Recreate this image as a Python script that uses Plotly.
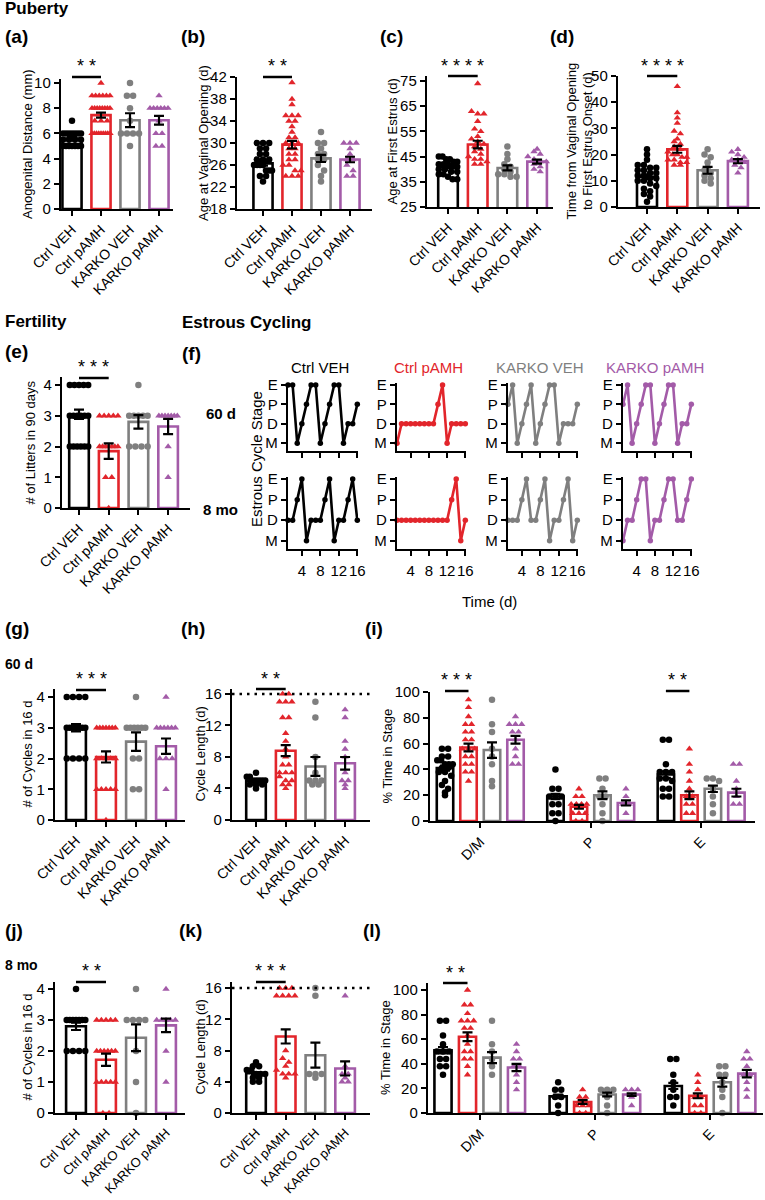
import numpy as np
import plotly.graph_objects as go

W, H = 765, 1200
FONT = "Liberation Sans, Arial, sans-serif"

groups = ["Ctrl VEH", "Ctrl pAMH", "KARKO VEH", "KARKO pAMH"]
colors = ["#000000", "#e2252b", "#7f7f7f", "#a35ba8"]
symbols = ["circle", "triangle-up", "circle", "triangle-up"]

# ---------------- data ----------------
# (a) Anogenital distance (mm)
a_means = [5.6, 7.45, 7.05, 7.05]
a_sems = [0.15, 0.2, 0.55, 0.35]
a_pts = [
    [7, 6, 6, 6, 6, 6, 6, 6, 5.5, 5.5, 5.5, 5.5, 5, 5, 5, 5, 5, 5, 5],
    [10, 9, 9, 9, 9, 9, 9, 8, 8, 8, 8, 8, 8, 8, 8, 7, 7, 7, 6, 6, 6, 6, 6, 6, 6, 6, 6],
    [10, 9, 9, 8, 7, 6, 6, 6, 6, 5],
    [9, 8, 8, 8, 8, 8, 8, 7, 6, 6, 5, 5],
]
# (b) Age at vaginal opening (d)
b_means = [26.3, 29.7, 27.2, 27.0]
b_sems = [0.4, 0.7, 0.65, 0.5]
b_pts = [
    [30, 30, 30, 29, 29, 28, 28, 27, 27, 27, 26, 26, 26, 26, 25, 25, 25, 24, 24, 23],
    [41, 38, 37, 35, 35, 35, 34, 34, 33, 32, 31, 31, 30, 30, 30, 29, 29, 28, 28, 27, 27, 26, 26, 25, 25, 24, 24, 24],
    [32, 30, 30, 29, 28, 28, 27, 27, 26, 25, 24, 23],
    [30, 30, 30, 29, 28, 27, 27, 26, 25, 24, 24],
]
# (c) Age at first estrus (d)
c_means = [41.0, 49.8, 40.5, 43.0]
c_sems = [0.6, 1.5, 1.0, 0.8]
c_pts = [
    [45, 45, 44, 44, 43, 43, 42, 42, 42, 41, 41, 40, 40, 39, 39, 38, 38, 37, 36, 36],
    [74, 63, 62, 62, 59, 56, 55, 53, 52, 51, 50, 49, 48, 47, 46, 45, 44, 44, 43, 42, 42],
    [49, 46, 44, 42, 41, 40, 39, 38, 38, 37, 37],
    [48, 47, 46, 45, 44, 43, 43, 42, 41, 40, 39],
]
# (d) Time from VO to first estrus onset (d)
d_means = [11.5, 22.0, 14.0, 17.5]
d_sems = [0.9, 1.3, 1.3, 0.8]
d_pts = [
    [22, 20, 18, 16, 16, 15, 15, 14, 14, 13, 13, 12, 12, 11, 11, 10, 10, 9, 8, 7, 6, 5, 4, 2],
    [46, 36, 34, 32, 29, 28, 26, 25, 24, 23, 22, 21, 20, 20, 19, 19, 18, 18, 17, 17, 16, 16],
    [22, 20, 19, 17, 15, 14, 13, 12, 11, 10, 9],
    [22, 21, 20, 19, 18, 18, 17, 16, 15, 13],
]
# (e) # of litters in 90 days
e_means = [3.05, 1.85, 2.8, 2.65]
e_sems = [0.15, 0.25, 0.22, 0.25]
e_pts = [
    [4, 4, 4, 4, 4, 3, 3, 3, 3, 3, 3, 2, 2, 2, 2, 2, 2],
    [3, 3, 3, 3, 3, 2, 2, 2, 2, 2, 2, 2, 1, 1, 0],
    [4, 3, 3, 3, 3, 3, 2, 2, 2, 2],
    [3, 3, 3, 3, 3, 3, 3, 2, 1],
]
# (f) estrous cycle stage sequences (16 days)
f_days = list(range(1, 17))
stage_names = ["M", "D", "P", "E"]
f_60d = ["EEMDPEEMDPEEMDDP", "MDDDDDDDDPEMDDDD", "PEMDPEMDPEEMDDDP", "PEMDPEEMDPEEMDDP"]
f_8mo = ["DDPEMDDDPEMDDPED", "DDDDDDDDDDDDPEMD", "DDDPEDDPEMDDPEMD", "MDDPEEMDDPEEDDPE"]
# (g) # cycles in 16 d, 60 d
g_means = [3.0, 2.05, 2.55, 2.4]
g_sems = [0.12, 0.18, 0.3, 0.25]
g_pts = [
    [4, 4, 4, 4, 3, 3, 3, 3, 3, 3, 3, 2, 2, 2, 2],
    [3, 3, 3, 3, 3, 3, 3, 2, 2, 2, 2, 2, 1, 1, 1, 1, 1, 0],
    [4, 3, 3, 3, 3, 3, 3, 2, 2, 1, 1],
    [4, 3, 3, 3, 3, 3, 3, 2, 2, 2, 1],
]
# (h) cycle length (d), 60 d
h_means = [5.0, 8.8, 6.8, 7.2]
h_sems = [0.15, 0.7, 1.2, 0.8]
h_pts = [
    [6, 5.5, 5.5, 5, 5, 5, 5, 5, 4.5, 4.5, 4.5, 4],
    [16, 16, 15, 15, 15, 13, 13, 11, 10, 9, 8, 7, 7, 6, 6, 6, 5.5, 5, 5, 4.5, 4.5, 4],
    [15, 13, 8, 6, 5, 5, 5, 4.5, 4.5],
    [14, 13, 10, 9, 8, 6, 5, 5, 4.5, 4],
]
stages = ["D/M", "P", "E"]
# (i) % time in stage, 60 d  (rows: stage, cols: group)
i_means = [[41, 57, 55, 63], [19, 11, 20, 14], [36, 20, 25, 22]]
i_sems = [[2.0, 3.0, 6.0, 3.0], [2.0, 1.5, 3.0, 2.0], [2.5, 3.0, 2.5, 3.0]]
i_pts = [
    [[56, 56, 50, 50, 47, 47, 44, 44, 44, 41, 41, 38, 38, 35, 31, 28, 25, 22, 20],
     [94, 88, 81, 75, 75, 69, 69, 63, 63, 56, 56, 56, 50, 50, 44, 44, 38, 38, 31],
     [94, 75, 69, 56, 50, 44, 31, 27],
     [81, 75, 75, 75, 69, 69, 63, 56, 50, 44, 44]],
    [[40, 25, 25, 19, 19, 19, 13, 13, 6, 6, 0],
     [25, 19, 19, 13, 13, 13, 13, 6, 6, 6, 0, 0],
     [33, 33, 25, 19, 19, 13, 6, 0],
     [25, 19, 13, 13, 6]],
    [[63, 63, 44, 38, 38, 38, 33, 33, 31, 25, 25, 19, 19],
     [56, 44, 38, 31, 25, 19, 19, 13, 13, 6, 6],
     [33, 33, 31, 25, 19, 13, 6],
     [44, 44, 31, 25, 19, 13, 13]],
]
# (j) # cycles in 16 d, 8 mo
j_means = [2.8, 1.72, 2.43, 2.83]
j_sems = [0.12, 0.2, 0.43, 0.22]
j_pts = [
    [4, 3, 3, 3, 3, 3, 3, 3, 2, 2, 2, 2],
    [3, 3, 3, 3, 3, 2, 2, 2, 2, 2, 2, 1, 1, 1, 1, 1, 0, 0],
    [4, 3, 3, 3, 3, 2, 1, 0],
    [4, 3, 3, 3, 3, 3, 2, 1],
]
# (k) cycle length (d), 8 mo
k_means = [5.1, 9.8, 7.4, 5.7]
k_sems = [0.15, 0.9, 1.6, 0.9]
k_pts = [
    [6.5, 6, 6, 5.5, 5.5, 5, 5, 5, 4.5, 4.5, 4, 4],
    [16, 16, 16, 15, 15, 15, 15, 8, 7, 6.5, 6, 5.5, 5, 5, 5, 4.5],
    [16, 15, 5, 5, 5, 4.5],
    [15, 6, 5, 5, 4.5, 4, 4],
]
# (l) % time in stage, 8 mo
l_means = [[51, 62, 45, 37], [13.5, 9, 15, 15], [22, 14, 25, 32]]
l_sems = [[2.5, 3.5, 4.5, 3.0], [1.5, 1.5, 1.5, 1.0], [2.5, 2.0, 3.5, 3.0]]
l_pts = [
    [[75, 75, 63, 56, 50, 50, 50, 44, 44, 38, 38, 31],
     [100, 88, 88, 81, 75, 75, 75, 69, 69, 63, 56, 50, 50, 44, 44, 38, 31],
     [75, 56, 50, 44, 38, 31],
     [56, 50, 44, 44, 38, 38, 31, 25, 19]],
    [[25, 19, 19, 13, 13, 6, 0],
     [19, 13, 13, 6, 6, 6, 0, 0],
     [19, 19, 19, 13, 6, 0],
     [19, 19, 19, 13, 6]],
    [[44, 44, 31, 25, 19, 13, 13, 6],
     [31, 25, 19, 13, 13, 6, 6, 0, 0],
     [38, 38, 31, 31, 25, 19, 13, 0],
     [50, 44, 44, 38, 31, 31, 25, 19, 13]],
]

# ---------------- helpers ----------------
def PX(x):
    return x / W


def PY(y):
    return 1 - y / H


fig = go.Figure()
lay = {}
annotations = []
shapes = []


def ax_names(n):
    s = "" if n == 1 else str(n)
    return "xaxis" + s, "yaxis" + s, "x" + s, "y" + s


def add_axes(n, xl, xr, yt, yb, xrange, yrange, xtv, xtt, ytv, ytt,
             xfont=14, yfont=15, xangle=-45, show_xlabels=True, ticklen=5):
    xa, ya, xr_, yr_ = ax_names(n)
    common = dict(showline=True, linecolor="black", linewidth=2.2, ticks="outside",
                  tickwidth=2, ticklen=ticklen, tickcolor="black", showgrid=False,
                  zeroline=False, fixedrange=True, automargin=False)
    lay[xa] = dict(common, domain=[PX(xl), PX(xr)], range=xrange, anchor=yr_,
                   tickmode="array", tickvals=xtv, ticktext=xtt, tickangle=xangle,
                   showticklabels=show_xlabels,
                   tickfont=dict(size=xfont, color="black", family=FONT))
    lay[ya] = dict(common, domain=[PY(yb), PY(yt)], range=yrange, anchor=xr_,
                   tickmode="array", tickvals=ytv, ticktext=ytt,
                   tickfont=dict(size=yfont, color="black", family=FONT))
    return xr_, yr_


def text(t, x, y, size=13, bold=False, color="black", xanchor="left", angle=0, yanchor="middle"):
    if bold:
        t = "<b>" + t + "</b>"
    annotations.append(dict(text=t, x=PX(x), y=PY(y), xref="paper", yref="paper",
                            showarrow=False, xanchor=xanchor, yanchor=yanchor,
                            textangle=angle, font=dict(size=size, color=color, family=FONT)))


def swarm(vals, center, v_per_px, u_per_px, msize=6.5, maxhalf=0.33):
    vals = np.asarray(vals, float)
    binw = v_per_px * msize * 0.9
    keys = np.round(vals / binw).astype(int)
    xs = np.zeros(len(vals))
    step = u_per_px * msize * 0.95
    for k in np.unique(keys):
        idx = np.where(keys == k)[0]
        n = len(idx)
        s = step
        if n > 1 and (n - 1) * s > 2 * maxhalf:
            s = 2 * maxhalf / (n - 1)
        for j, i in enumerate(idx):
            xs[i] = center + (j - (n - 1) / 2) * s
    return xs


def sig(xr_, x0, x1, y_line, y_star, stars):
    shapes.append(dict(type="line", xref=xr_, yref="paper", x0=x0, x1=x1,
                       y0=PY(y_line), y1=PY(y_line), line=dict(color="black", width=2.5)))
    annotations.append(dict(text=" ".join(stars), x=(x0 + x1) / 2, y=PY(y_star + 4), xref=xr_,
                            yref="paper", showarrow=False, xanchor="center", yanchor="middle",
                            font=dict(size=18, color="black", family=FONT)))


def draw_bars(xr_, yr_, pos, means, sems, pts, cols, syms, v_per_px, u_per_px, bw=0.66):
    fig.add_trace(go.Bar(x=pos, y=means, width=bw, xaxis=xr_, yaxis=yr_,
                         marker=dict(color="white", line=dict(color=cols, width=2.6)),
                         hoverinfo="skip"))
    for p, vals, c, s in zip(pos, pts, cols, syms):
        xs = swarm(vals, p, v_per_px, u_per_px, maxhalf=bw / 2 - 0.02)
        fig.add_trace(go.Scatter(x=xs, y=vals, mode="markers", xaxis=xr_, yaxis=yr_,
                                 marker=dict(symbol=s, size=6.5, color=c, line=dict(width=0)),
                                 cliponaxis=False, hoverinfo="skip"))
    fig.add_trace(go.Scatter(x=pos, y=means, mode="markers", xaxis=xr_, yaxis=yr_,
                             marker=dict(size=1, color="rgba(0,0,0,0)"),
                             error_y=dict(type="data", array=sems, color="black",
                                          thickness=2.2, width=5),
                             cliponaxis=False, hoverinfo="skip"))


def bar_panel(n, geom, yrange, ytv, means, sems, pts, title, title_x, sigspec,
              dotted=None, xfont=14):
    xl, xr, c0, sp, yt, yb = geom
    xrange = [(xl - c0) / sp, (xr - c0) / sp]
    pos = [0, 1, 2, 3]
    xr_, yr_ = add_axes(n, xl, xr, yt, yb, xrange, yrange, pos, groups,
                        ytv, [str(v) for v in ytv], xfont=xfont)
    v_per_px = (yrange[1] - yrange[0]) / (yb - yt)
    if dotted is not None:
        shapes.append(dict(type="line", xref=xr_, yref=yr_, x0=xrange[0], x1=xrange[1],
                           y0=dotted, y1=dotted, line=dict(color="black", width=2.5, dash="2.5px,5px")))
    draw_bars(xr_, yr_, pos, means, sems, pts, colors, symbols, v_per_px, 1 / sp)
    text(title, title_x, (yt + yb) / 2, size=13, xanchor="center", angle=-90)
    y_line, y_star, stars = sigspec
    sig(xr_, 0, 1, y_line, y_star, stars)


def grouped_panel(n, geom, yrange, ytv, means, sems, pts, title, title_x, sigs, G=4.7):
    xl, xr, c0, sp, yt, yb = geom
    xrange = [(xl - c0) / sp, (xr - c0) / sp]
    pos, m, s, p, cc, ss = [], [], [], [], [], []
    for g in range(3):
        for k in range(4):
            pos.append(g * G + k)
            m.append(means[g][k])
            s.append(sems[g][k])
            p.append(pts[g][k])
            cc.append(colors[k])
            ss.append(symbols[k])
    tv = [g * G + 1.5 for g in range(3)]
    xr_, yr_ = add_axes(n, xl, xr, yt, yb, xrange, yrange, tv, stages,
                        ytv, [str(v) for v in ytv])
    v_per_px = (yrange[1] - yrange[0]) / (yb - yt)
    draw_bars(xr_, yr_, pos, m, s, p, cc, ss, v_per_px, 1 / sp, bw=0.7)
    text(title, title_x, (yt + yb) / 2, size=13, xanchor="center", angle=-90)
    for (g, y_line, y_star, stars) in sigs:
        sig(xr_, g * G, g * G + 1, y_line, y_star, stars)


# ---------------- Puberty row ----------------
text("Puberty", 3, 9, size=17, bold=True)
for lab, x in [("(a)", 3), ("(b)", 179), ("(c)", 378), ("(d)", 548)]:
    text(lab, x, 36, size=19, bold=True)

bar_panel(1, (61, 173, 72, 29, 79, 209), [0, 10.32], [0, 2, 4, 6, 8, 10],
          a_means, a_sems, a_pts, "Anogenital Distance (mm)", 27, (77, 62, "**"))
bar_panel(2, (237, 372, 263, 29, 77, 209), [18, 42], [18, 22, 26, 30, 34, 38, 42],
          b_means, b_sems, b_pts, "Age at Vaginal Opening (d)", 204, (77, 62, "**"))
bar_panel(3, (427, 553, 448, 29.7, 76, 207), [25, 77], [25, 35, 45, 55, 65, 75],
          c_means, c_sems, c_pts, "Age at First Estrus (d)", 392, (76, 62, "****"))
bar_panel(4, (618, 760, 647, 30.3, 76, 207), [0, 50], [0, 10, 20, 30, 40, 50],
          d_means, d_sems, d_pts, "Time from Vaginal Opening<br>to First Estrus Onset (d)", 579,
          (76, 62, "****"))

# ---------------- Fertility ----------------
text("Fertility", 3, 321, size=17, bold=True)
text("(e)", 3, 351, size=19, bold=True)
bar_panel(5, (62, 190, 79, 29.7, 377, 508), [0, 4.26], [0, 1, 2, 3, 4],
          e_means, e_sems, e_pts, "# of Litters in 90 days", 30, (378, 363, "***"))

# ---------------- Estrous cycling (f) ----------------
text("Estrous Cycling", 180, 322, size=17, bold=True)
text("(f)", 180, 353, size=19, bold=True)
col_px = [(288, 358), (397, 466), (508, 578), (623, 692)]
row_px = [(383, 451), (477, 549)]
stage_val = {s: i for i, s in enumerate(stage_names)}
n = 6
for r, seqs in enumerate([f_60d, f_8mo]):
    for c, seq in enumerate(seqs):
        xl, xr = col_px[c]
        yt, yb = row_px[r]
        xr_, yr_ = add_axes(n, xl, xr, yt, yb, [1, 16.15], [-0.4, 3.1],
                            [4, 8, 12, 16], ["4", "8", "12", "16"],
                            [0, 1, 2, 3], stage_names, xfont=15, yfont=15, xangle=0,
                            show_xlabels=(r == 1), ticklen=5)
        lay[ax_names(n)[0]]["ticklabelstandoff"] = 2
        yv = [stage_val[ch] for ch in seq]
        fig.add_trace(go.Scatter(x=f_days, y=yv, mode="lines+markers", xaxis=xr_, yaxis=yr_,
                                 line=dict(color=colors[c], width=2.6),
                                 marker=dict(size=5.5, color=colors[c]),
                                 cliponaxis=False, hoverinfo="skip"))
        n += 1
for c, (xl, xr) in enumerate(col_px):
    text(groups[c], (xl + xr) / 2 - 3, 367, size=15, color=colors[c], xanchor="center")
text("60 d", 221, 414, size=15, bold=True, xanchor="center")
text("8 mo", 221, 509, size=15, bold=True, xanchor="center")
text("Estrous Cycle Stage", 256, 459, size=15, xanchor="center", angle=-90)
text("Time (d)", 490, 601, size=15, xanchor="center")

# ---------------- 60 d row ----------------
for lab, x in [("(g)", 3), ("(h)", 179), ("(i)", 363)]:
    text(lab, x, 628, size=19, bold=True)
text("60 d", 3, 664, size=14, bold=True)
bar_panel(14, (55, 185, 76, 30, 689, 820), [0, 4.26], [0, 1, 2, 3, 4],
          g_means, g_sems, g_pts, "# of Cycles in 16 d", 27, (690, 675, "***"))
bar_panel(15, (232, 370, 256, 29.7, 689, 820), [0, 16.63], [0, 4, 8, 12, 16],
          h_means, h_sems, h_pts, "Cycle Length (d)", 200, (689, 675, "**"), dotted=16)
grouped_panel(16, (430, 755, 445, 23.5, 692, 821), [0, 100], [0, 20, 40, 60, 80, 100],
              i_means, i_sems, i_pts, "% Time in Stage", 387,
              [(0, 691, 676, "***"), (2, 691, 676, "**")])

# ---------------- 8 mo row ----------------
for lab, x in [("(j)", 3), ("(k)", 177), ("(l)", 361)]:
    text(lab, x, 930, size=19, bold=True)
text("8 mo", 3, 965, size=14, bold=True)
bar_panel(17, (55, 185, 76, 30, 982, 1113), [0, 4.23], [0, 1, 2, 3, 4],
          j_means, j_sems, j_pts, "# of Cycles in 16 d", 27, (982, 967, "**"), xfont=13)
bar_panel(18, (232, 370, 256, 29.7, 982, 1113), [0, 16.77], [0, 4, 8, 12, 16],
          k_means, k_sems, k_pts, "Cycle Length (d)", 200, (982, 967, "***"), dotted=16,
          xfont=13)
grouped_panel(19, (428, 763, 443, 24.5, 983, 1113), [0, 105.7], [0, 20, 40, 60, 80, 100],
              l_means, l_sems, l_pts, "% Time in Stage", 385,
              [(0, 983, 969, "**")])

fig.update_layout(**lay)
fig.update_layout(width=W, height=H, margin=dict(l=0, r=0, t=0, b=0),
                  paper_bgcolor="white", plot_bgcolor="white", showlegend=False,
                  annotations=annotations, shapes=shapes, barmode="overlay",
                  font=dict(family=FONT, color="black"))
fig.write_html("out.html", config={"displayModeBar": False, "staticPlot": True},
               post_script="document.body.style.margin='0px';document.body.style.padding='0px';")
